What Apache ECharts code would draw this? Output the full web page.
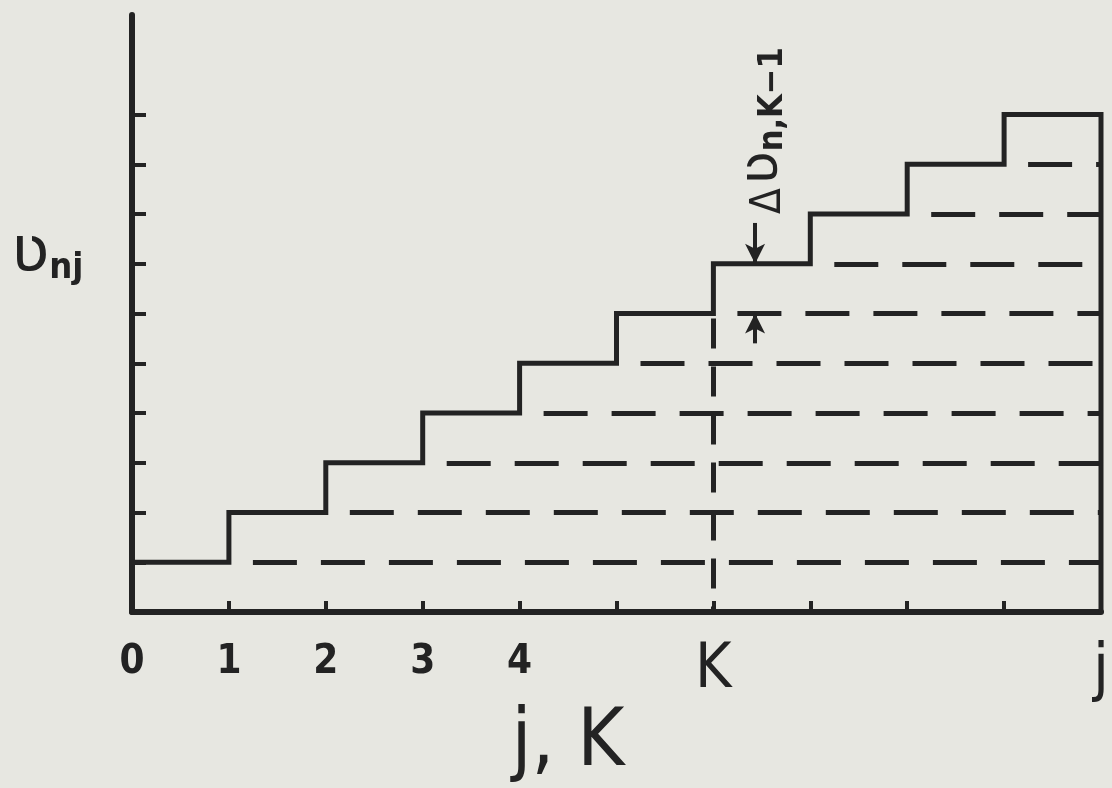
<!DOCTYPE html>
<html>
<head>
<meta charset="utf-8">
<script src="https://cdn.jsdelivr.net/npm/echarts@6/dist/echarts.min.js"></script>
<style>
  html, body { margin: 0; padding: 0; background: #e7e7e1; }
  #chart { width: 1112px; height: 788px; }
</style>
</head>
<body>
<div id="chart"></div>
<script>
// Step function ʋ_nj over j: level k+1 holds on [k, k+1)
const stepStarts = [0, 1, 2, 3, 4, 5, 6, 7, 8, 9];
const stepLevels = [1, 2, 3, 4, 5, 6, 7, 8, 9, 10];
const jEnd = 10;
const xTickLabels = ['0', '1', '2', '3', '4', '', 'K', '', '', '', 'j'];
const yTickValues = [1, 2, 3, 4, 5, 6, 7, 8, 9, 10];
const kPos = 6;            // position of K on the j axis
const deltaX = 6.43;       // where the Δʋ arrows sit
const deltaTopFrom = 7.82; // tail of the downward arrow
const deltaLowFrom = 5.4;  // tail of the upward arrow

const INK = '#232323';
const HAND = '"DejaVu Sans Condensed", "Liberation Sans Narrow", "DejaVu Sans", sans-serif';
const GREEK = '"DejaVu Sans", sans-serif';

// solid staircase, closed down to the axis at the right edge
const stairData = stepStarts.map((x, i) => [x, stepLevels[i]]);
stairData.push([jEnd, stepLevels[stepLevels.length - 1]]);
stairData.push([jEnd, 0]);

const dashedStyle = { color: INK, width: 5, type: [44, 24], dashOffset: 44, cap: 'butt' };

// dashed guide at each level (except the top one) running to the right edge
const markData = [];
for (let i = 1; i < stepLevels.length; i++) {
  const lv = stepLevels[i - 1];
  markData.push([
    { coord: [stepStarts[i], lv], symbol: 'none', lineStyle: dashedStyle },
    { coord: [jEnd, lv], symbol: 'none' }
  ]);
}

// vertical dashed line at K
markData.push([
  { coord: [kPos, stepLevels[kPos - 1]], symbol: 'none',
    lineStyle: { color: INK, width: 5, type: [30, 18], dashOffset: 43 } },
  { coord: [kPos, 0], symbol: 'none' }
]);

// arrows marking the increment Δʋ between levels K-1 and K
markData.push([
  { coord: [deltaX, deltaTopFrom], symbol: 'none',
    lineStyle: { color: INK, width: 4, type: 'solid' } },
  { coord: [deltaX, stepLevels[kPos]], symbol: 'arrow', symbolSize: [15, 20] }
]);
markData.push([
  { coord: [deltaX, deltaLowFrom], symbol: 'none',
    lineStyle: { color: INK, width: 4, type: 'solid' } },
  { coord: [deltaX, stepLevels[kPos - 1]], symbol: 'arrow', symbolSize: [15, 20] }
]);

const chart = echarts.init(document.getElementById('chart'), null, { renderer: 'canvas' });

chart.setOption({
  backgroundColor: '#e7e7e1',
  animation: false,
  grid: { left: 132, right: 4, top: 15, bottom: 176, containLabel: false },
  xAxis: {
    type: 'value',
    min: 0, max: 10, interval: 1,
    splitLine: { show: false },
    axisLine: { show: true, onZero: false, lineStyle: { color: INK, width: 6 } },
    axisTick: { show: true, inside: true, length: 11, lineStyle: { color: INK, width: 4 } },
    axisLabel: {
      show: true,
      margin: 30,
      showMinLabel: true,
      showMaxLabel: true,
      formatter: v => {
        const t = xTickLabels[Math.round(v)] || '';
        if (!t) return '';
        if (t === 'K') return '{k|K}';
        if (t === 'j') return '{j|j}';
        return '{d|' + t + '}';
      },
      rich: {
        d: { fontFamily: HAND, fontWeight: 'bold', fontSize: 40, color: INK, lineHeight: 42 },
        k: { fontFamily: HAND, fontSize: 62, color: INK, lineHeight: 58 },
        j: { fontFamily: HAND, fontSize: 64, color: INK, lineHeight: 60 }
      }
    }
  },
  yAxis: {
    type: 'value',
    min: 0, max: 12,
    splitLine: { show: false },
    axisLine: { show: true, onZero: false, lineStyle: { color: INK, width: 6 } },
    axisTick: {
      show: true, inside: true, length: 14,
      customValues: yTickValues,
      lineStyle: { color: INK, width: 4 }
    },
    axisLabel: { show: false }
  },
  series: [{
    type: 'line',
    step: 'end',
    data: stairData,
    symbol: 'none',
    silent: true,
    lineStyle: { color: INK, width: 5, join: 'miter' },
    markLine: {
      silent: true,
      animation: false,
      label: { show: false },
      emphasis: { disabled: true },
      data: markData
    }
  }]
});

// hand-lettered labels placed relative to the plot
function placeLabels() {
  const origin = chart.convertToPixel({ gridIndex: 0 }, [0, 0]);
  const yNamePt = chart.convertToPixel({ gridIndex: 0 }, [0, 7.18]);
  const xNamePt = chart.convertToPixel({ gridIndex: 0 }, [4.5, 0]);
  const annPt = chart.convertToPixel({ gridIndex: 0 }, [deltaX, 0]);
  const annStart = chart.convertToPixel({ gridIndex: 0 }, [0, 8.0]);

  chart.setOption({
    graphic: [
      {
        type: 'text',
        x: origin[0] - 121,
        y: yNamePt[1],
        style: {
          text: '{v|ʋ}{s|nj}',
          verticalAlign: 'middle',
          align: 'left',
          rich: {
            v: { fontFamily: GREEK, fontSize: 64, fill: INK, lineHeight: 64, verticalAlign: 'bottom' },
            s: { fontFamily: HAND, fontWeight: 'bold', fontSize: 36, fill: INK, lineHeight: 64, verticalAlign: 'bottom' }
          }
        }
      },
      {
        type: 'text',
        x: xNamePt[0],
        y: xNamePt[1] + 132,
        style: {
          text: 'j, K',
          font: '80px ' + HAND,
          fill: INK,
          align: 'center',
          verticalAlign: 'middle'
        }
      },
      {
        type: 'text',
        x: annPt[0] + 12,
        y: annStart[1],
        rotation: Math.PI / 2,
        style: {
          text: '{d|Δ} {v|ʋ}{s|n,K−1}',
          align: 'left',
          verticalAlign: 'middle',
          rich: {
            d: { fontFamily: HAND, fontSize: 42, fill: INK, lineHeight: 46, verticalAlign: 'bottom' },
            v: { fontFamily: GREEK, fontSize: 56, fill: INK, lineHeight: 46, verticalAlign: 'bottom' },
            s: { fontFamily: HAND, fontWeight: 'bold', fontSize: 34, fill: INK, lineHeight: 46, verticalAlign: 'bottom' }
          }
        }
      }
    ]
  });
}
placeLabels();
</script>
</body>
</html>
